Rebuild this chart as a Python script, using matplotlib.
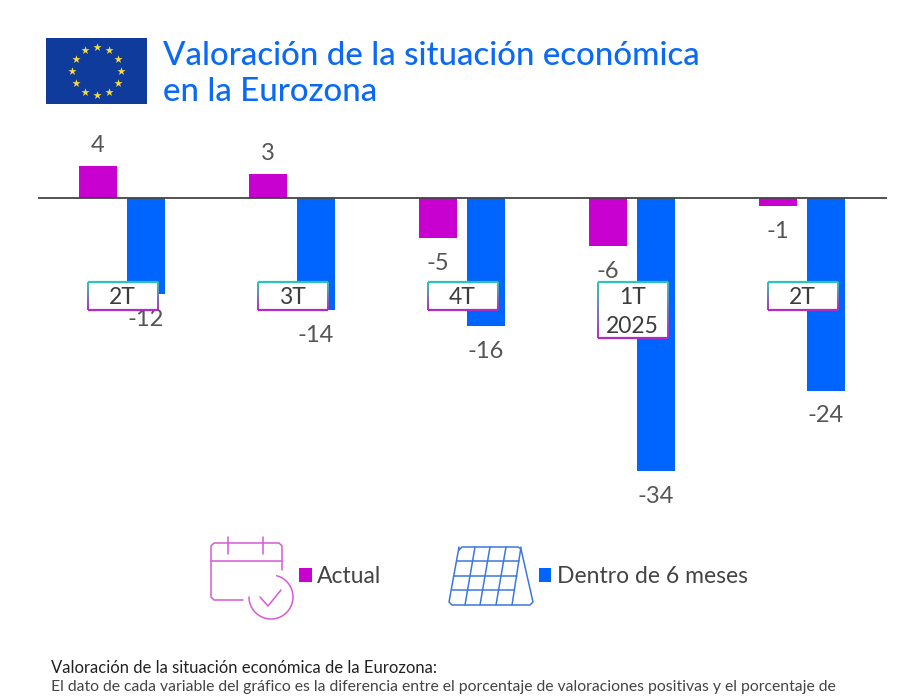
import numpy as np
import matplotlib
matplotlib.use("Agg")
import matplotlib.pyplot as plt
from matplotlib.collections import LineCollection
from matplotlib.colors import to_rgb
from matplotlib.patches import Rectangle

categories = ["2T", "3T", "4T", "1T\n2025", "2T"]
actual = [4, 3, -5, -6, -1]
future = [-12, -14, -16, -34, -24]
series_names = ["Actual", "Dentro de 6 meses"]
title_text = "Valoración de la situación económica\nen la Eurozona"
note_head = "Valoración de la situación económica de la Eurozona:"
note_body = "El dato de cada variable del gráfico es la diferencia entre el porcentaje de valoraciones positivas y el porcentaje de"

MAGENTA = "#C800D0"
BLUE = "#0064FF"
TITLE = "#0A6AF5"
GREY = "#555555"
FONT = "Lato"
plt.rcParams["font.family"] = [FONT, "DejaVu Sans"]

W, H = 900, 700
fig = plt.figure(figsize=(W / 100, H / 100), dpi=100, facecolor="white")

# chart axes, placed in pixels
L, R, T, B = 38, 887, 130, 515
ax = fig.add_axes([L / W, 1 - B / H, (R - L) / W, (B - T) / H])
PX_X = 170.0
PX_Y = 8.03
X0 = 122.0
Y0 = 198.0
ax.set_xlim((L - X0) / PX_X, (R - X0) / PX_X)
ax.set_ylim((Y0 - B) / PX_Y, (Y0 - T) / PX_Y)
ax.axis("off")
ax.patch.set_alpha(0)

x = np.arange(len(categories))
bw = 38 / PX_X
off = 24 / PX_X
b1 = ax.bar(x - off, actual, bw, color=MAGENTA, label=series_names[0], zorder=2)
b2 = ax.bar(x + off, future, bw, color=BLUE, label=series_names[1], zorder=2)
ax.axhline(0, color="#444444", lw=1.3, zorder=3)

for xs, vals in ((x - off, actual), (x + off, future)):
    for xi, v in zip(xs, vals):
        dy = 20 if v > 0 else -25
        ax.annotate(str(v), (xi, v), xytext=(0, dy * 0.72), textcoords="offset points",
                    ha="center", va="center", fontsize=17, color=GREY)

# overlay in pixel coordinates for decoration
ov = fig.add_axes([0, 0, 1, 1], zorder=5)
ov.set_xlim(0, W)
ov.set_ylim(H, 0)
ov.axis("off")
ov.patch.set_alpha(0)

# flag
ov.add_patch(Rectangle((46, 38), 101, 66, fc="#0F3C9C", ec="none"))
ang = np.deg2rad(np.arange(0, 360, 30))
ov.scatter(96.7 + 24.3 * np.cos(ang), 71 + 24.3 * np.sin(ang), marker="*", s=38,
           color="#F6DC3C", linewidths=0)

ov.text(163, 74, title_text, color=TITLE, fontsize=23.8, va="center", ha="left",
        linespacing=1.25, fontweight="medium")

# category boxes
TEAL, PURP = np.array(to_rgb("#2CC5B5")), np.array(to_rgb("#B32CC0"))
for i, c in enumerate(categories):
    cx = X0 + PX_X * i + 0.5
    bh = 56 if "\n" in c else 28
    xl, xr, yt, yb = cx - 35, cx + 35, 282, 282 + bh
    ov.add_patch(Rectangle((xl, yt), 70, bh, fc="white", ec="none"))
    ys = np.linspace(yt, yb, 30)
    cols = [TEAL + (PURP - TEAL) * t for t in np.linspace(0, 1, 29)]
    for xe in (xl, xr):
        segs = [[(xe, ys[k]), (xe, ys[k + 1])] for k in range(29)]
        ov.add_collection(LineCollection(segs, colors=cols, linewidths=1.4))
    ov.plot([xl, xr], [yt, yt], color=TEAL, lw=1.6, solid_capstyle="butt")
    ov.plot([xl, xr], [yb, yb], color=PURP, lw=1.6, solid_capstyle="butt")
    ov.text(cx, (yt + yb) / 2 + 2, c, ha="center", va="center", fontsize=16.5,
            color="#3C3C3C", linespacing=1.42)

# calendar icon
CAL = "#D65AD6"
kw = dict(color=CAL, lw=1.1, solid_capstyle="round", solid_joinstyle="round")
ov.plot([243, 214, 211, 211, 214, 279, 282, 282],
        [600, 600, 597, 546, 543, 543, 546, 570], **kw)
ov.plot([211, 282], [561, 561], **kw)
ov.plot([228, 228], [537, 554], **kw)
ov.plot([263, 263], [537, 554], **kw)
ov.plot([260, 268, 281], [597, 606, 590], **kw)
t = np.deg2rad(np.linspace(-75, 180, 80))
ov.plot(271 + 22 * np.cos(t), 597 + 22 * np.sin(t), **kw)

# panel icon
PAN = "#3C78DC"
kw = dict(color=PAN, lw=1.1, solid_capstyle="round", solid_joinstyle="round")
ov.plot([459, 449, 452, 530, 533, 521, 518, 462, 459],
        [547, 602, 605, 605, 602, 549, 547, 547, 550], **kw)
top_x = [475, 490, 506, 521]
bot_x = [465, 480, 496, 512]
for a, b in zip(top_x, bot_x):
    ov.plot([a, b], [547, 605], **kw)
for y in (561, 576, 590):
    f = (y - 547) / 58
    ov.plot([459 - 10 * f, 521 - 9 * f], [y, y], **kw)

# legend from the bars
leg = ov.legend([b1, b2], series_names, ncol=2, frameon=False, fontsize=16.5,
                loc="center left", bbox_to_anchor=(299 / W, 1 - 576.5 / H),
                bbox_transform=fig.transFigure, borderpad=0, borderaxespad=0,
                handlelength=0.55, handleheight=0.55, handletextpad=0.25,
                columnspacing=6.85, labelcolor="#444444")

# note
ov.text(51, 668, note_head, fontsize=12, color="#222222", va="center", ha="left")
ov.text(51, 687, note_body, fontsize=11.35, color="#444444", va="center", ha="left")

fig.savefig("out.png", dpi=100, facecolor="white")
